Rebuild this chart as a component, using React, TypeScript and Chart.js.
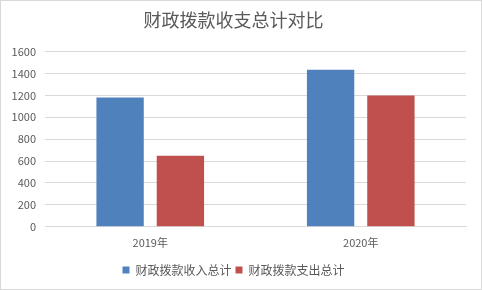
import React, { useEffect, useRef } from "react";
import { Chart, registerables } from "chart.js";

Chart.register(...registerables);

const categories = ["2019年", "2020年"];
const incomeLabel = "财政拨款收入总计";
const expenseLabel = "财政拨款支出总计";
const incomeValues = [1180, 1435];
const expenseValues = [650, 1200];
const yTicks = [0, 200, 400, 600, 800, 1000, 1200, 1400, 1600];

const FONT = "'Noto Sans CJK SC', 'Noto Sans', sans-serif";

export default function App() {
  const ref = useRef<HTMLCanvasElement | null>(null);
  useEffect(() => {
    document.body.style.margin = "0";
    if (!ref.current) return;
    const chart = new Chart(ref.current, {
      type: "bar",
      data: {
        labels: categories,
        datasets: [
          {
            label: incomeLabel,
            data: incomeValues,
            backgroundColor: "#4f81bd",
            categoryPercentage: 0.573,
            barPercentage: 0.785,
          },
          {
            label: expenseLabel,
            data: expenseValues,
            backgroundColor: "#c0504d",
            categoryPercentage: 0.573,
            barPercentage: 0.785,
          },
        ],
      },
      options: {
        animation: false,
        responsive: false,
        maintainAspectRatio: false,
        layout: { padding: { left: 0, right: 15, top: 8, bottom: 3 } },
        plugins: {
          title: {
            display: true,
            text: "财政拨款收支总计对比",
            color: "#595959",
            font: { family: FONT, size: 18, weight: "normal" },
            padding: { top: 0, bottom: 21 },
          },
          legend: {
            position: "bottom",
            labels: {
              boxWidth: 7,
              boxHeight: 7,
              color: "#595959",
              font: { family: FONT, size: 12 },
              padding: 4,
            },
          },
          tooltip: { enabled: false },
        },
        scales: {
          x: {
            grid: { display: false },
            border: { display: true, color: "#d9d9d9" },
            ticks: { color: "#595959", font: { family: FONT, size: 11 }, padding: 1 },
            afterFit: (s: any) => {
              s.height += 10;
            },
          },
          y: {
            min: 0,
            max: 1600,
            afterBuildTicks: (s: any) => {
              s.ticks = yTicks.map((v) => ({ value: v }));
            },
            afterFit: (s: any) => {
              s.width = 44;
            },
            grid: { color: "#d9d9d9", drawTicks: false },
            border: { display: false },
            ticks: {
              color: "#595959",
              font: { family: FONT, size: 11 },
              padding: 9,
              callback: (v: any) => String(v),
            },
          },
        },
      },
    });
    return () => chart.destroy();
  }, []);
  return (
    <div
      style={{
        position: "absolute",
        left: 0,
        top: 0,
        width: 480,
        height: 288,
        border: "1px solid #d9d9d9",
        background: "#fff",
      }}
    >
      <canvas ref={ref} width={480} height={288} style={{ display: "block" }} />
    </div>
  );
}
